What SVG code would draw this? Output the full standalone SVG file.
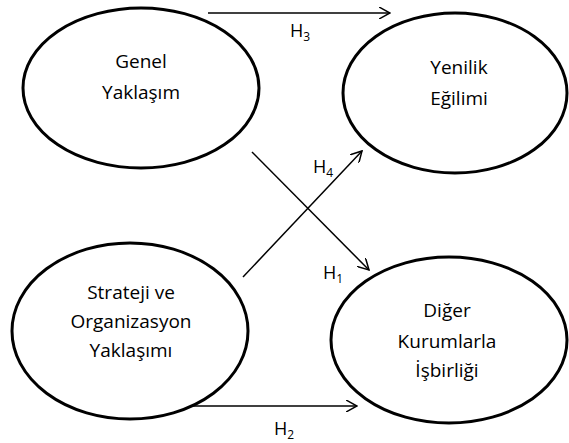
<svg xmlns="http://www.w3.org/2000/svg" width="569" height="443" viewBox="0 0 569 443">
<defs>
<style>
.node{fill:#fff;stroke:#000;stroke-width:3}
.lbl{font-family:"Open Sans","Liberation Sans",sans-serif;font-size:19px;fill:#000;text-anchor:middle}
.h{font-family:"Open Sans","Liberation Sans",sans-serif;font-size:18px;fill:#000}
.sub{font-size:12px}
.conn{stroke:#000;stroke-width:1.5;fill:none;marker-end:url(#arr)}
</style>
<marker id="arr" viewBox="0 0 12 12" refX="11" refY="6" markerWidth="12" markerHeight="12" markerUnits="userSpaceOnUse" orient="auto">
<path d="M0,0 L11,6 L0,12" fill="none" stroke="#000" stroke-width="1.5"/>
</marker>
</defs>
<rect width="569" height="443" fill="#fff"/>
<g id="connectors">
<line class="conn" x1="208" y1="13" x2="390" y2="13"/>
<line class="conn" x1="193" y1="406" x2="357" y2="406"/>
<line class="conn" x1="243" y1="277" x2="362" y2="151"/>
<line class="conn" x1="252" y1="152" x2="369" y2="270"/>
<text class="h" x="290" y="37">H<tspan class="sub" dy="4">3</tspan></text>
<text class="h" x="274" y="435">H<tspan class="sub" dy="4">2</tspan></text>
<text class="h" x="313" y="173">H<tspan class="sub" dy="4">4</tspan></text>
<text class="h" x="323" y="279">H<tspan class="sub" dy="4">1</tspan></text>
</g>
<g id="genel">
<ellipse class="node" cx="141" cy="88" rx="118" ry="80"/>
<text class="lbl" x="141" y="68">Genel</text>
<text class="lbl" x="141" y="99">Yaklaşım</text>
</g>
<g id="yenilik">
<ellipse class="node" cx="455" cy="93" rx="112" ry="80"/>
<text class="lbl" x="459" y="74">Yenilik</text>
<text class="lbl" x="459" y="105">Eğilimi</text>
</g>
<g id="strateji">
<ellipse class="node" cx="130" cy="331" rx="118" ry="88"/>
<text class="lbl" x="131" y="299">Strateji ve</text>
<text class="lbl" x="131" y="328">Organizasyon</text>
<text class="lbl" x="131" y="357">Yaklaşımı</text>
</g>
<g id="diger">
<ellipse class="node" cx="449" cy="340" rx="118" ry="83"/>
<text class="lbl" x="447" y="317">Diğer</text>
<text class="lbl" x="447" y="348">Kurumlarla</text>
<text class="lbl" x="447" y="377">İşbirliği</text>
</g>
</svg>
